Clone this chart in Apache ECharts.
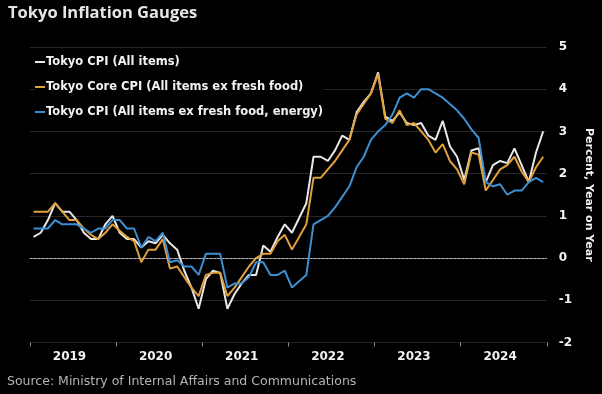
<!DOCTYPE html>
<html>
<head>
<meta charset="utf-8">
<script src="https://cdn.jsdelivr.net/npm/echarts@6/dist/echarts.min.js"></script>
<style>
html,body{margin:0;padding:0;background:#000;}
#chart{width:602px;height:394px;}
</style>
</head>
<body>
<div id="chart"></div>
<script>
// ---- Data ----
const years = ['2019', '2020', '2021', '2022', '2023', '2024'];
const yTickMin = -2, yTickMax = 5, yTickStep = 1;

// Tokyo CPI, % year on year, monthly Jan 2019 - Dec 2024
const tokyoAllItems = [
  0.5, 0.6, 0.9, 1.3, 1.1, 1.1, 0.9, 0.6, 0.45, 0.45, 0.8, 1.0,
  0.6, 0.45, 0.45, 0.25, 0.4, 0.35, 0.55, 0.35, 0.2, -0.3, -0.7, -1.2,
  -0.5, -0.3, -0.35, -1.2, -0.85, -0.6, -0.4, -0.4, 0.3, 0.15, 0.5, 0.8,
  0.6, 0.95, 1.3, 2.4, 2.4, 2.3, 2.55, 2.9, 2.8, 3.45, 3.7, 3.9,
  4.4, 3.35, 3.25, 3.45, 3.2, 3.15, 3.2, 2.9, 2.8, 3.25, 2.65, 2.4,
  1.85, 2.55, 2.6, 1.8, 2.2, 2.3, 2.25, 2.6, 2.2, 1.8, 2.5, 3.0
];
const tokyoCore = [
  1.1, 1.1, 1.1, 1.3, 1.1, 0.9, 0.9, 0.7, 0.55, 0.45, 0.6, 0.8,
  0.65, 0.5, 0.4, -0.1, 0.2, 0.2, 0.45, -0.25, -0.2, -0.45, -0.7, -0.9,
  -0.4, -0.35, -0.35, -0.9, -0.7, -0.45, -0.2, 0.0, 0.1, 0.1, 0.4, 0.55,
  0.2, 0.5, 0.8, 1.9, 1.9, 2.1, 2.3, 2.55, 2.8, 3.4, 3.65, 3.9,
  4.35, 3.3, 3.2, 3.5, 3.15, 3.2, 3.0, 2.8, 2.5, 2.7, 2.3, 2.1,
  1.75, 2.5, 2.45, 1.6, 1.85, 2.1, 2.2, 2.4, 2.05, 1.8, 2.15, 2.4
];
const tokyoCoreCore = [
  0.7, 0.7, 0.7, 0.9, 0.8, 0.8, 0.8, 0.7, 0.6, 0.7, 0.7, 0.9,
  0.9, 0.7, 0.7, 0.25, 0.5, 0.4, 0.6, -0.1, -0.05, -0.2, -0.2, -0.4,
  0.1, 0.1, 0.1, -0.7, -0.6, -0.6, -0.45, -0.1, -0.1, -0.4, -0.4, -0.3,
  -0.7, -0.55, -0.4, 0.8, 0.9, 1.0, 1.2, 1.45, 1.7, 2.15, 2.4, 2.8,
  3.0, 3.15, 3.4, 3.8, 3.9, 3.8, 4.0, 4.0, 3.9, 3.8, 3.65, 3.5,
  3.3, 3.05, 2.85, 1.8, 1.7, 1.75, 1.5, 1.6, 1.6, 1.8, 1.9, 1.8
];
const seriesNames = [
  'Tokyo CPI (All items)',
  'Tokyo Core CPI (All items ex fresh food)',
  'Tokyo CPI (All items ex fresh food, energy)'
];

// month categories built from the years
const months = [];
years.forEach(y => { for (let m = 1; m <= 12; m++) months.push(y + '-' + String(m).padStart(2, '0')); });

const FONT = 'DejaVu Sans';
const chart = echarts.init(document.getElementById('chart'), null, {renderer: 'canvas'});
chart.setOption({
  backgroundColor: '#000',
  animation: false,
  title: [
    {
      text: 'Tokyo Inflation Gauges', left: 8, top: 5, padding: 0,
      textStyle: {color: '#e6e6e6', fontFamily: 'Open Sans', fontWeight: 'bold', fontSize: 16.5}
    },
    {
      text: 'Source: Ministry of Internal Affairs and Communications', left: 7, top: 375, padding: 0,
      textStyle: {color: '#b4b4b4', fontFamily: 'DejaVu Sans', fontWeight: 'normal', fontSize: 12.5}
    }
  ],
  legend: {
    data: seriesNames,
    orient: 'vertical',
    left: 35, top: 55,
    padding: 0,
    itemGap: 11,
    itemWidth: 10, itemHeight: 2,
    icon: 'rect',
    selectedMode: false,
    backgroundColor: '#000',
    textStyle: {color: '#f2f2f2', fontFamily: FONT, fontWeight: 'bold', fontSize: 11.5, lineHeight: 14, padding: [0, 0, 0, -4]}
  },
  grid: {left: 30, right: 50, top: 47, bottom: 51.5, containLabel: false},
  xAxis: [
    {
      type: 'category',
      data: months,
      boundaryGap: true,
      axisLine: {show: true, lineStyle: {color: '#8c8c8c', width: 1}},
      axisTick: {show: false},
      axisLabel: {
        interval: (i) => i % 12 === 5,
        formatter: (v) => v.slice(0, 4),
        color: '#f2f2f2', fontFamily: FONT, fontWeight: 'bold', fontSize: 12, margin: 8
      },
      splitLine: {show: false}
    },
    {
      // year boundary ticks: 0..72 months
      type: 'value', position: 'bottom',
      min: 0, max: years.length * 12, interval: 12,
      axisLine: {show: false},
      axisTick: {show: true, length: 4, lineStyle: {color: '#8c8c8c'}},
      axisLabel: {show: false},
      splitLine: {show: false}
    }
  ],
  yAxis: {
    type: 'value',
    position: 'right',
    min: yTickMin, max: yTickMax, interval: yTickStep,
    name: 'Percent, Year on Year',
    nameLocation: 'middle',
    nameRotate: -90,
    nameGap: 35,
    nameTextStyle: {color: '#f2f2f2', fontFamily: FONT, fontWeight: 'bold', fontSize: 11},
    axisLine: {show: false},
    axisTick: {show: false},
    axisLabel: {color: '#f2f2f2', fontFamily: FONT, fontWeight: 'bold', fontSize: 12, margin: 12, align: 'left'},
    splitLine: {show: true, lineStyle: {color: '#262626', width: 1}}
  },
  series: [
    {
      name: seriesNames[0], type: 'line', data: tokyoAllItems, symbol: 'none',
      xAxisIndex: 0,
      lineStyle: {color: '#e8e8e8', width: 2}, itemStyle: {color: '#e8e8e8'},
      markLine: {
        silent: true, symbol: ['none', 'none'], label: {show: false},
        lineStyle: {color: '#b0b0b0', type: [2, 2], width: 1},
        data: [{yAxis: 0}]
      }
    },
    {
      name: seriesNames[1], type: 'line', data: tokyoCore, symbol: 'none',
      xAxisIndex: 0,
      lineStyle: {color: '#e0a03a', width: 2}, itemStyle: {color: '#e0a03a'}
    },
    {
      name: seriesNames[2], type: 'line', data: tokyoCoreCore, symbol: 'none',
      xAxisIndex: 0,
      lineStyle: {color: '#3d8fd1', width: 2}, itemStyle: {color: '#3d8fd1'}
    }
  ]
});
</script>
</body>
</html>
